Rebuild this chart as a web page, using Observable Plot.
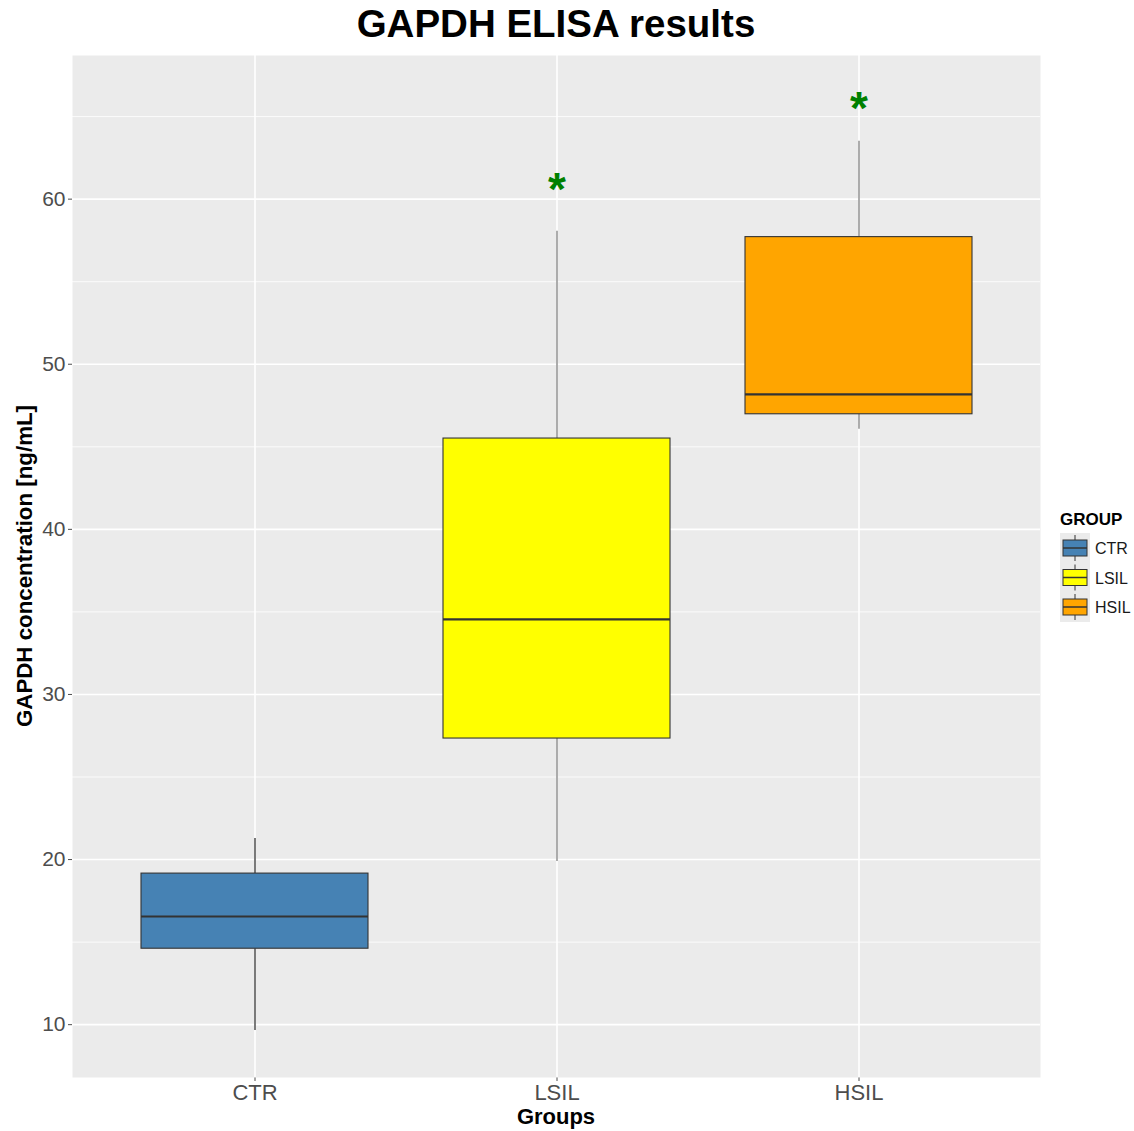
<!DOCTYPE html>
<html><head><meta charset="utf-8">
<script src="https://cdn.jsdelivr.net/npm/d3@7"></script>
<script src="https://cdn.jsdelivr.net/npm/@observablehq/plot@0.6"></script>
<style>
body{margin:0;background:#fff;font-family:"Liberation Sans",Arial,sans-serif;}
#wrap{position:relative;width:1134px;height:1131px;overflow:hidden;}
#title{position:absolute;left:72px;width:968px;top:1px;text-align:center;font-weight:bold;font-size:38.5px;line-height:46px;color:#000;}
#ylab{position:absolute;left:-175px;top:553px;width:400px;height:26px;line-height:26px;text-align:center;font-weight:bold;font-size:22.3px;color:#000;transform:rotate(-90deg);}
#xlab{position:absolute;left:72px;width:968px;top:1104px;line-height:26px;text-align:center;font-weight:bold;font-size:22px;color:#000;}
#legend{position:absolute;left:1050px;top:500px;}
</style></head><body>
<div id="wrap"><div id="chart"></div>
<div id="title">GAPDH ELISA results</div>
<div id="ylab">GAPDH concentration [ng/mL]</div>
<div id="xlab">Groups</div>
<svg id="legend" width="84" height="130"></svg>
</div>
<script>
const groups = ["CTR", "LSIL", "HSIL"];
const whiskerLow = [9.64, 19.88, 46.06];
const q1 = [14.6, 27.33, 46.97];
const medians = [16.55, 34.55, 48.18];
const q3 = [19.15, 45.5, 57.7];
const whiskerHigh = [21.27, 58.06, 63.5];
const fills = ["#4682B4", "#FFFF00", "#FFA500"];
const whiskerStroke = ["#333333", "#808080", "#808080"];
const starGroups = ["LSIL", "HSIL"];
const starY = [61.0, 65.9];
const yTicks = [10, 20, 30, 40, 50, 60];
const yMinor = [15, 25, 35, 45, 55, 65];

const table = groups.map((g, i) => ({group: g, lo: whiskerLow[i], q1: q1[i], med: medians[i], q3: q3[i], hi: whiskerHigh[i], fill: fills[i], ws: whiskerStroke[i]}));
const stars = starGroups.map((g, i) => ({group: g, y: starY[i]}));

const chart = Plot.plot({
  width: 1134, height: 1131,
  marginLeft: 72, marginRight: 94, marginTop: 55, marginBottom: 54,
  style: {fontFamily: "Liberation Sans, Arial, sans-serif", fontSize: "21px", color: "#4d4d4d", background: "transparent"},
  x: {type: "band", domain: groups, paddingInner: 0.25, paddingOuter: 0.225, label: null, tickSize: 4, tickPadding: 3},
  y: {domain: [6.8, 68.7], label: null, ticks: yTicks, tickSize: 4, tickPadding: 3},
  marks: [
    Plot.frame({fill: "#EBEBEB", stroke: null}),
    Plot.ruleY(yMinor, {stroke: "white", strokeWidth: 0.8}),
    Plot.ruleY(yTicks, {stroke: "white", strokeWidth: 1.6}),
    Plot.ruleX(groups, {x: d => d, stroke: "white", strokeWidth: 1.6}),
    Plot.ruleX(table, {x: "group", y1: "lo", y2: "q1", stroke: "ws", strokeWidth: 1.3}),
    Plot.ruleX(table, {x: "group", y1: "q3", y2: "hi", stroke: "ws", strokeWidth: 1.3}),
    Plot.barY(table, {x: "group", y1: "q1", y2: "q3", fill: "fill", stroke: "#333333", strokeWidth: 1.1}),
    Plot.tickY(table, {x: "group", y: "med", stroke: "#333333", strokeWidth: 2.2}),
    Plot.text(stars, {x: "group", y: "y", text: () => "*", fill: "green", fontSize: 46, fontWeight: "bold", lineAnchor: "bottom", dy: 22})
  ]
});
chart.querySelectorAll("g[aria-label='x-axis tick label'] text, g[aria-label='x-axis'] text").forEach(t => t.setAttribute("font-size", "22"));
document.getElementById("chart").appendChild(chart);

// legend
const lg = d3.select("#legend");
lg.append("text").attr("x", 10).attr("y", 25).attr("font-size", 17).attr("font-weight", "bold")
  .attr("font-family", "Liberation Sans, Arial, sans-serif").attr("fill", "#000").text("GROUP");
lg.append("rect").attr("x", 10).attr("y", 33).attr("width", 30).attr("height", 89).attr("fill", "#EBEBEB");
groups.forEach((g, i) => {
  const cy = 48 + i * 29.5;
  lg.append("line").attr("x1", 25).attr("x2", 25).attr("y1", cy - 13).attr("y2", cy + 13).attr("stroke", "#333").attr("stroke-width", 1);
  lg.append("rect").attr("x", 13).attr("y", cy - 8).attr("width", 24).attr("height", 16)
    .attr("fill", fills[i]).attr("stroke", "#333").attr("stroke-width", 1);
  lg.append("line").attr("x1", 13).attr("x2", 37).attr("y1", cy).attr("y2", cy).attr("stroke", "#333").attr("stroke-width", 1.5);
  lg.append("text").attr("x", 45).attr("y", cy + 6).attr("font-size", 16)
    .attr("font-family", "Liberation Sans, Arial, sans-serif").attr("fill", "#1a1a1a").text(g);
});
</script>
</body></html>
